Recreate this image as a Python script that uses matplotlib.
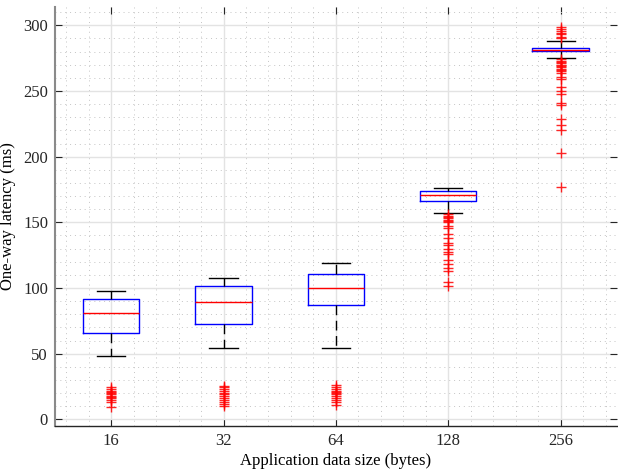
import matplotlib.pyplot as plt
from matplotlib.ticker import MultipleLocator

# Datos
tamanos = ["16", "32", "64", "128", "256"]
medianas = [80.7, 89.5, 100.2, 171.1, 281.5]
q1 = [65.5, 72.8, 87.0, 166.6, 280.1]
q3 = [91.3, 101.4, 111.0, 173.6, 282.9]
bigote_inf = [48.0, 54.3, 54.0, 157.1, 275.2]
bigote_sup = [97.9, 108.0, 119.3, 176.4, 287.8]

atipicos_16 = [9.3, 13, 15, 16, 17, 18, 19, 20, 21, 22, 23, 24.5]
atipicos_32 = [10.3, 12, 13.5, 15, 16.5, 18, 19, 20, 21.5, 23, 24.5, 25.5]
atipicos_64 = [11, 13, 14.5, 16, 17.5, 19, 20, 21, 22, 23.5, 25, 26.2]
atipicos_128 = [156, 155, 154, 153, 152, 151, 150, 147, 145.5, 141, 138,
                134.5, 132.5, 130, 127.5, 126, 121, 118.5, 115, 113, 104.5, 101.5]
atipicos_256 = [299, 297, 296, 294, 293, 291, 290,
                274, 273, 272, 271, 270, 269, 268, 267, 266, 265, 264, 261, 259,
                253, 250, 248, 241, 239.5, 229, 224, 220, 203, 177]
atipicos = [atipicos_16, atipicos_32, atipicos_64, atipicos_128, atipicos_256]

plt.rcParams["font.family"] = ["Liberation Serif", "DejaVu Serif"]

fig = plt.figure(figsize=(6.18, 4.73), dpi=100)
ax = fig.add_axes([0.089, 0.0994, 0.909, 0.886])

stats = []
for i in range(len(tamanos)):
    stats.append({
        "med": medianas[i], "q1": q1[i], "q3": q3[i],
        "whislo": bigote_inf[i], "whishi": bigote_sup[i],
        "fliers": atipicos[i], "label": tamanos[i],
    })

ax.bxp(stats, widths=0.5, showfliers=True,
       boxprops=dict(color="blue", linewidth=1.0),
       medianprops=dict(color="red", linewidth=1.0),
       whiskerprops=dict(color="black", linewidth=1.0, linestyle=(0, (7, 4))),
       capprops=dict(color="black", linewidth=1.0),
       capwidths=0.25,
       flierprops=dict(marker="+", markeredgecolor="red", markersize=7,
                       markeredgewidth=1.0, linestyle="none", alpha=0.85))

ax.set_xlim(0.5, 5.5)
ax.set_ylim(-5, 314)
ax.yaxis.set_major_locator(MultipleLocator(50))
ax.yaxis.set_minor_locator(MultipleLocator(10))
ax.xaxis.set_minor_locator(MultipleLocator(0.2))

ax.set_axisbelow(True)
ax.grid(which="major", color="#e3e3e3", linewidth=1.0, linestyle="-")
ax.grid(which="minor", color="#c4c4c4", linewidth=0.7, linestyle=(0, (1, 4)))

ax.spines["top"].set_visible(False)
ax.spines["right"].set_visible(False)
ax.spines["left"].set_color("#8a8a8a")
ax.spines["left"].set_linewidth(1.5)
ax.spines["bottom"].set_color("#262626")
ax.spines["bottom"].set_linewidth(1.0)

ax.tick_params(which="major", direction="in", length=5, top=True, right=True,
               labelsize=12, colors="#262626", pad=5)
ax.tick_params(which="minor", length=0)

ax.set_xlabel("Application data size (bytes)", fontsize=12, labelpad=3)
ax.set_ylabel("One-way latency (ms)", fontsize=12, labelpad=5)

fig.savefig("out.png", dpi=100)
